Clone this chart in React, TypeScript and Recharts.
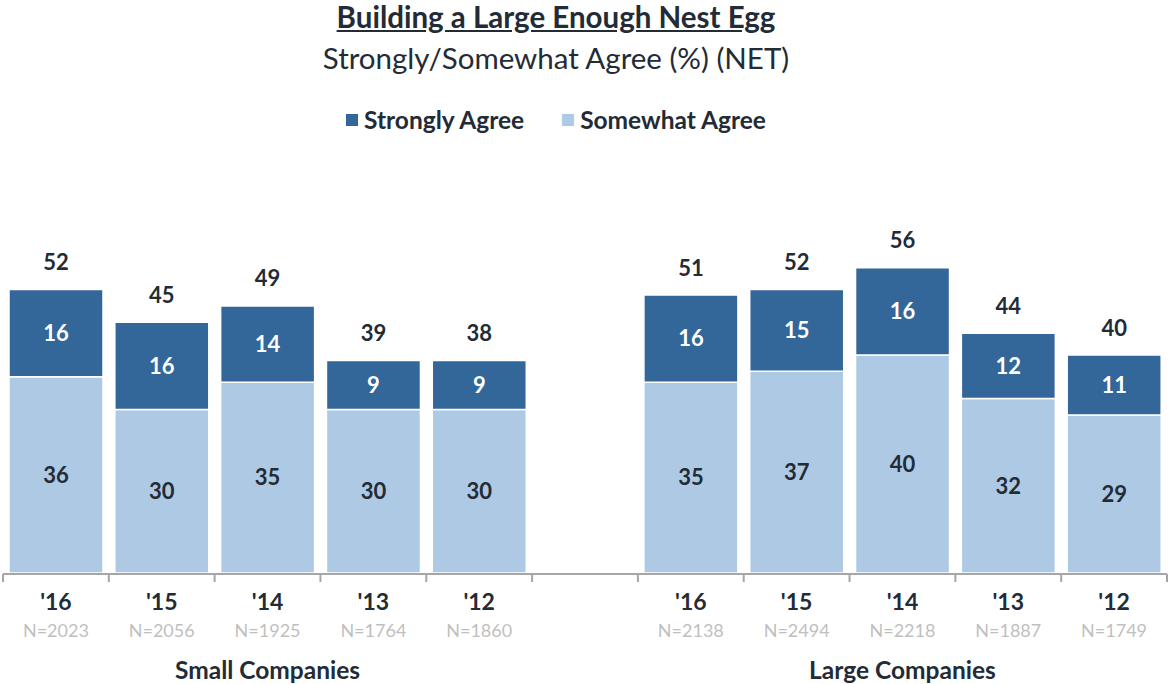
import React from "react";
import { Bar, BarChart, LabelList, XAxis, YAxis } from "recharts";

const categories = ["'16", "'15", "'14", "'13", "'12", "", "'16", "'15", "'14", "'13", "'12"];
const sampleSizes = ["N=2023", "N=2056", "N=1925", "N=1764", "N=1860", "", "N=2138", "N=2494", "N=2218", "N=1887", "N=1749"];
const groupLabels = ["", "", "Small Companies", "", "", "", "", "", "Large Companies", "", ""];
const stronglyAgree = [16, 16, 14, 9, 9, null, 16, 15, 16, 12, 11];
const somewhatAgree = [36, 30, 35, 30, 30, null, 35, 37, 40, 32, 29];
const netTotals = [52, 45, 49, 39, 38, null, 51, 52, 56, 44, 40];
const edgeTicks = [0, 1, 2, 3, 4, 5, 6, 7, 8, 9, 10, 11];

const DARK = "#336699";
const LIGHT = "#adc9e4";
const TEXT = "#232b36";
const FONT = "Lato, 'Open Sans', sans-serif";

const data = categories.map((cat, i) => ({
  slot: i,
  cat,
  strongly: stronglyAgree[i],
  somewhat: somewhatAgree[i],
  total: netTotals[i],
}));

// tick y already includes tickSize + tickMargin (8px) below the axis
function YearTick(props: any) {
  const { x, y, payload } = props;
  const i = payload.value as number;
  return (
    <g fontFamily={FONT}>
      <text x={x} y={y + 20} textAnchor="middle" dominantBaseline="central" fontSize={23} fontWeight={700} fill={TEXT}>
        {categories[i]}
      </text>
      <text x={x} y={y + 49} textAnchor="middle" dominantBaseline="central" fontSize={18} fill="#bfbfbf">
        {sampleSizes[i]}
      </text>
      {groupLabels[i] && (
        <text x={x} y={y + 88} textAnchor="middle" dominantBaseline="central" fontSize={24.5} fontWeight={700} fill={TEXT}>
          {groupLabels[i]}
        </text>
      )}
    </g>
  );
}

// boundary ticks only need the tick line, no text
function BlankTick() {
  return <g />;
}

function TotalLabel(props: any) {
  const { x, y, width, value } = props;
  if (value == null) return null;
  return (
    <text x={x + width / 2} y={y - 28} textAnchor="middle" dominantBaseline="central" fontFamily={FONT} fontSize={22} fontWeight={700} fill={TEXT}>
      {value}
    </text>
  );
}

function LegendItem({ color, label }: { color: string; label: string }) {
  return (
    <span style={{ display: "inline-flex", alignItems: "center", margin: "0 19px" }}>
      <span style={{ width: 12, height: 12, background: color, marginRight: 6, display: "inline-block" }} />
      <span>{label}</span>
    </span>
  );
}

export default function App() {
  return (
    <div style={{ position: "absolute", left: 0, top: 0, width: 1169, height: 684, background: "#fff", fontFamily: FONT, color: TEXT }}>
      <div style={{ position: "absolute", left: 0, width: 1112, top: 0, textAlign: "center" }}>
        <div style={{ fontSize: 29.5, fontWeight: 700, textDecoration: "underline", lineHeight: "34px" }}>
          Building a Large Enough Nest Egg
        </div>
        <div style={{ fontSize: 29.5, lineHeight: "34px", marginTop: 7 }}>Strongly/Somewhat Agree (%) (NET)</div>
      </div>
      <div style={{ position: "absolute", left: 0, width: 1112, top: 100, textAlign: "center", fontSize: 24.5, fontWeight: 700, lineHeight: "34px" }}>
        <LegendItem color={DARK} label="Strongly Agree" />
        <LegendItem color={LIGHT} label="Somewhat Agree" />
      </div>
      <BarChart
        width={1169}
        height={684}
        data={data}
        margin={{ top: 246, right: 2, bottom: 11, left: 3 }}
        barSize={94}
      >
        <XAxis dataKey="slot" type="category" height={1} axisLine={false} tickLine={false} tick={<YearTick />} interval={0} />
        <XAxis
          xAxisId="edge"
          type="number"
          dataKey="slot"
          domain={[0, 11]}
          ticks={edgeTicks}
          interval={0}
          tick={<BlankTick />}
          height={99}
          tickSize={8}
          axisLine={{ stroke: "#a6a6a6", strokeWidth: 2 }}
          tickLine={{ stroke: "#a6a6a6", strokeWidth: 2 }}
        />
        <YAxis hide domain={[0, 60]} />
        <Bar dataKey="somewhat" stackId="a" fill={LIGHT} stroke="#fff" strokeWidth={1.5} isAnimationActive={false}>
          <LabelList dataKey="somewhat" position="center" fill={TEXT} fontFamily={FONT} fontSize={22} fontWeight={700} />
        </Bar>
        <Bar dataKey="strongly" stackId="a" fill={DARK} stroke="#fff" strokeWidth={1.5} isAnimationActive={false}>
          <LabelList dataKey="strongly" position="center" fill="#fff" fontFamily={FONT} fontSize={22} fontWeight={700} />
          <LabelList dataKey="total" content={<TotalLabel />} />
        </Bar>
      </BarChart>
    </div>
  );
}
